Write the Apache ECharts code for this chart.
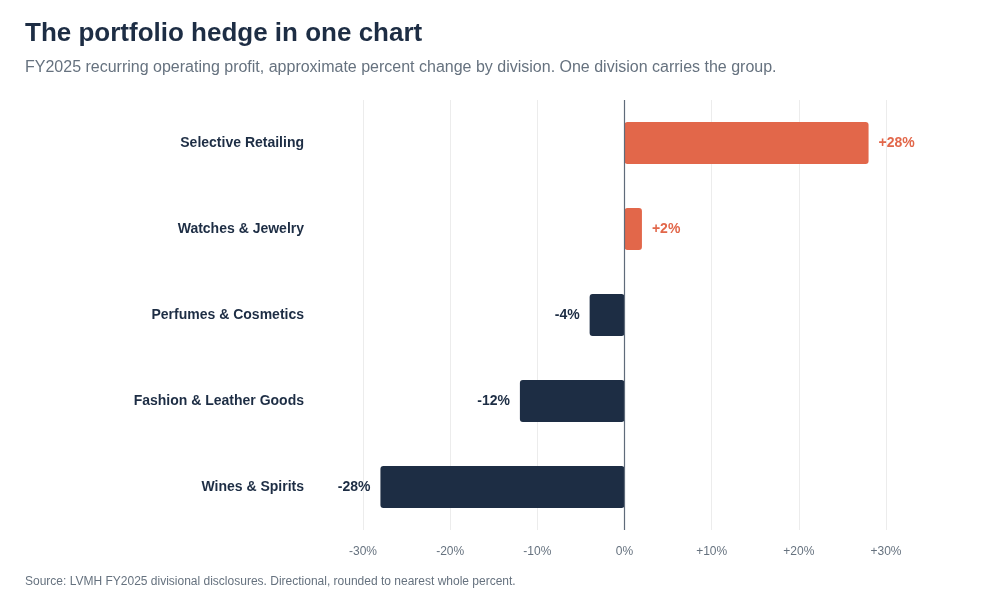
<!DOCTYPE html>
<html><head><meta charset="utf-8">
<script src="https://cdn.jsdelivr.net/npm/echarts@6/dist/echarts.min.js"></script>
<style>html,body{margin:0;padding:0;background:#fff}#c{width:1000px;height:600px}</style>
</head><body><div id="c"></div>
<script>
const categories = ["Wines & Spirits","Fashion & Leather Goods","Perfumes & Cosmetics","Watches & Jewelry","Selective Retailing"];
const values = [-28,-12,-4,2,28];
const ticks = [-30,-20,-10,0,10,20,30];
const POS = '#e2674a', NEG = '#1d2d44';
const chart = echarts.init(document.getElementById('c'));
chart.setOption({
  animation:false,
  textStyle:{fontFamily:'Liberation Sans, Arial, sans-serif'},
  title:[
    {text:'The portfolio hedge in one chart',left:20,top:16,textStyle:{fontSize:26,fontWeight:'bold',color:'#1d2d44'}},
    {text:'FY2025 recurring operating profit, approximate percent change by division. One division carries the group.',left:20,top:55,textStyle:{fontSize:16,fontWeight:'normal',color:'#66727f'}},
    {text:'Source: LVMH FY2025 divisional disclosures. Directional, rounded to nearest whole percent.',left:20,top:571,textStyle:{fontSize:12,fontWeight:'normal',color:'#66727f'}}
  ],
  grid:{left:363,right:114,top:100,bottom:70},
  xAxis:{type:'value',min:-30,max:30,interval:10,
    axisLabel:{color:'#66727f',fontSize:12,margin:16,formatter:v=>(v>0?'+':'')+v+'%'},
    splitLine:{lineStyle:{color:'#ececec'}},axisLine:{show:false},axisTick:{show:false}},
  yAxis:{type:'category',data:categories,
    axisLabel:{color:'#1d2d44',fontSize:14,fontWeight:'bold',margin:59},
    axisLine:{show:false},axisTick:{show:false}},
  series:[{type:'bar',barWidth:'49%',
    data:values.map(v=>({value:v,itemStyle:{color:v>0?POS:NEG,borderRadius:3},
      label:{show:true,position:v>0?'right':'left',distance:10,color:v>0?POS:NEG,fontWeight:'bold',fontSize:14,
        formatter:(v>0?'+':'')+v+'%'}})),
    markLine:{silent:true,symbol:'none',label:{show:false},lineStyle:{color:'#5f6b7a',width:1.2,type:'solid'},data:[{xAxis:0}]}
  }]
});
</script></body></html>
